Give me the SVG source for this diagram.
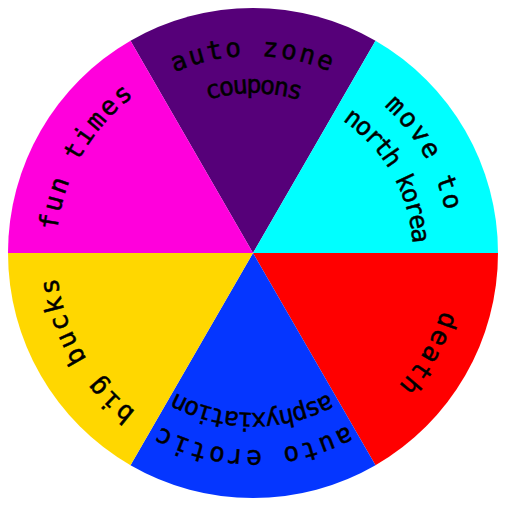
<svg xmlns="http://www.w3.org/2000/svg" xmlns:xlink="http://www.w3.org/1999/xlink" width="505" height="505" viewBox="0 0 505 505">
<style>
text{font-family:"DejaVu Sans Mono","Liberation Mono",monospace;fill:#000;stroke:#000;stroke-width:0.5px;}
.o{font-size:26px;letter-spacing:2.35px;}
.i{font-size:25px;letter-spacing:-1.85px;}
</style>
<defs>
<path id="p90o" d="M59,287.2 A197,197 0 1 1 447,287.2"/>
<path id="p90i" d="M95.4,280.8 A160,160 0 1 1 410.6,280.8"/>
<path id="p30o" d="M126.4,102.1 A197,197 0 1 1 320.4,438.1"/>
<path id="p30i" d="M150.2,130.4 A160,160 0 1 1 307.7,403.4"/>
<path id="pm30o" d="M320.4,67.9 A197,197 0 1 1 126.4,403.9"/>
<path id="pm90o" d="M447,218.8 A197,197 0 1 1 59,218.8"/>
<path id="pm90i" d="M410.6,225.2 A160,160 0 1 1 95.4,225.2"/>
<path id="p210o" d="M379.6,403.9 A197,197 0 1 1 185.6,67.9"/>
<path id="p150o" d="M185.6,438.1 A197,197 0 1 1 379.6,102.1"/>
</defs>
<rect width="505" height="505" fill="#fff"/>
<g id="auto-zone-coupons">
<path d="M253,253 L375.5,40.8 A245,245 0 0 0 130.5,40.8 Z" fill="#560079"/>
<text class="o" text-anchor="middle"><textPath href="#p90o" xlink:href="#p90o" startOffset="50%">auto zone</textPath></text>
<text class="i" text-anchor="middle"><textPath href="#p90i" xlink:href="#p90i" startOffset="50%">coupons</textPath></text>
</g>
<g id="move-to-north-korea">
<path d="M253,253 L498,253 A245,245 0 0 0 375.5,40.8 Z" fill="#00ffff"/>
<text class="o" text-anchor="middle"><textPath href="#p30o" xlink:href="#p30o" startOffset="50%">move to</textPath></text>
<text class="i" text-anchor="middle"><textPath href="#p30i" xlink:href="#p30i" startOffset="50%">north korea</textPath></text>
</g>
<g id="death">
<path d="M253,253 L375.5,465.2 A245,245 0 0 0 498,253 Z" fill="#ff0000"/>
<text class="o" text-anchor="middle"><textPath href="#pm30o" xlink:href="#pm30o" startOffset="50%">death</textPath></text>
</g>
<g id="auto-erotic-asphyxiation">
<path d="M253,253 L130.5,465.2 A245,245 0 0 0 375.5,465.2 Z" fill="#0536ff"/>
<text class="o" text-anchor="middle"><textPath href="#pm90o" xlink:href="#pm90o" startOffset="50%">auto erotic</textPath></text>
<text class="i" text-anchor="middle"><textPath href="#pm90i" xlink:href="#pm90i" startOffset="50%">asphyxiation</textPath></text>
</g>
<g id="big-bucks">
<path d="M253,253 L8,253 A245,245 0 0 0 130.5,465.2 Z" fill="#ffd700"/>
<text class="o" text-anchor="middle"><textPath href="#p210o" xlink:href="#p210o" startOffset="50%">big bucks</textPath></text>
</g>
<g id="fun-times">
<path d="M253,253 L130.5,40.8 A245,245 0 0 0 8,253 Z" fill="#ff00dc"/>
<text class="o" text-anchor="middle"><textPath href="#p150o" xlink:href="#p150o" startOffset="50%">fun times</textPath></text>
</g>
</svg>
